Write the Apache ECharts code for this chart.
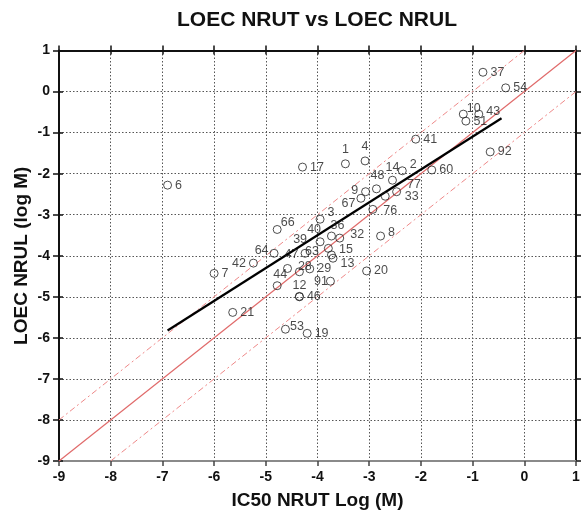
<!DOCTYPE html>
<html>
<head>
<meta charset="utf-8">
<script src="https://cdn.jsdelivr.net/npm/echarts@6/dist/echarts.min.js"></script>
<style>
html,body{margin:0;padding:0;background:#fff;}
#chart{width:581px;height:519px;}
</style>
</head>
<body>
<div id="chart"></div>
<script>
// Compound identifiers and their log(M) values
const pointIds = ['1','4','17','6','37','54','10','43','51','41','92','2','60','14','48','9','67','77','33','76',
  '3','66','40','36','32','8','39','64','63','15','13','47','28','29','20','44','91','12','46','53','19','42','7','21'];
const pointX = [-3.46,-3.08,-4.29,-6.90,-0.80,-0.36,-1.18,-0.88,-1.13,-2.10,-0.66,-2.36,-1.79,-2.55,-2.86,-3.07,-3.16,-2.47,-2.69,-2.93,
  -3.95,-4.78,-3.95,-3.73,-3.57,-2.78,-4.24,-4.84,-3.79,-3.73,-3.70,-4.58,-4.35,-4.15,-3.05,-4.78,-3.75,-4.35,-4.35,-4.62,-4.20,-5.24,-6.00,-5.64];
const pointY = [-1.76,-1.69,-1.84,-2.28,0.47,0.09,-0.55,-0.55,-0.72,-1.16,-1.47,-1.93,-1.91,-2.16,-2.37,-2.44,-2.60,-2.44,-2.55,-2.87,
  -3.11,-3.36,-3.66,-3.52,-3.57,-3.52,-3.94,-3.94,-3.82,-3.98,-4.06,-4.31,-4.39,-4.32,-4.37,-4.73,-4.62,-4.99,-5.00,-5.79,-5.89,-4.18,-4.43,-5.38];

// Linear fit end points
const fitX = [-6.90, -0.44];
const fitY = [-5.82, -0.65];

// Reference lines: identity and +/- one log unit
const identityX = [-9, 1];
const identityY = [-9, 1];
const upperX = [-9, 0];
const upperY = [-8, 1];
const lowerX = [-8, 1];
const lowerY = [-9, 0];

// Label placement for each id: [side, dx, dy]; ids not listed sit to the right
const labelPlace = {
  '1': ['top', 0, 0], '4': ['top', 0, 0],
  '10': ['right', -4, -6], '43': ['right', 0, -3],
  '2': ['right', 0, -6], '14': ['top', 0, 1], '48': ['top', 1, 1],
  '9': ['left', 0, -1], '67': ['left', 2, 5], '77': ['right', 3, -7], '33': ['right', 12, 0], '76': ['right', 3, 1],
  '3': ['right', 0, -7], '66': ['right', -4, -7], '40': ['top', -6, 2], '36': ['top', 6, 4], '32': ['right', 3, -4], '8': ['right', 0, -3],
  '39': ['top', -5, 0], '64': ['left', 2, -3], '63': ['left', -2, 3], '15': ['right', 0, -5], '13': ['right', 0, 5],
  '47': ['top', 4, 0], '28': ['right', -9, -5], '44': ['top', 3, 3], '91': ['left', 5, 0], '12': ['top', 0, 3],
  '53': ['right', -3, -3], '42': ['left', 0, 0]
};

const pts = pointIds.map((id, i) => {
  const p = labelPlace[id] || ['right', 0, 0];
  return { value: [pointX[i], pointY[i]], name: id, label: { position: p[0], offset: [p[1], p[2]] } };
});

const zip = (a, b) => a.map((v, i) => [v, b[i]]);

const chart = echarts.init(document.getElementById('chart'), null, { renderer: 'canvas' });

const FONT = 'Liberation Sans, Arial, sans-serif';
const axisFont = { fontFamily: FONT, fontWeight: 'bold', fontSize: 14, color: '#111' };

chart.setOption({
  animation: false,
  backgroundColor: '#fff',
  title: {
    text: 'LOEC NRUT vs LOEC NRUL',
    left: 312, top: 5, textAlign: 'center',
    textStyle: { fontFamily: FONT, fontWeight: 'bold', fontSize: 21, color: '#111' }
  },
  grid: { left: 59, right: 5, top: 50.5, bottom: 58, outerBoundsMode: 'none', containLabel: false },
  xAxis: [
    {
      type: 'value', min: -9, max: 1, interval: 1, position: 'bottom',
      name: 'IC50 NRUT Log (M)', nameLocation: 'middle', nameGap: 30,
      nameTextStyle: { fontFamily: FONT, fontWeight: 'bold', fontSize: 19, color: '#111' },
      axisLine: { show: true, onZero: false, lineStyle: { color: '#8a8a8a', width: 2 } },
      axisTick: { show: true, length: 5, lineStyle: { color: '#444', width: 1.5 } },
      axisLabel: Object.assign({ margin: 9 }, axisFont),
      splitLine: { show: true, lineStyle: { color: '#555', type: [1.5, 2], width: 1 } }
    },
    {
      type: 'value', min: -9, max: 1, interval: 1, position: 'top',
      axisLine: { show: true, onZero: false, lineStyle: { color: '#111', width: 2 } },
      axisTick: { show: true, inside: false, length: 5, lineStyle: { color: '#111', width: 1.5 } },
      axisLabel: { show: false }, splitLine: { show: false }
    },
    {
      type: 'value', min: -9, max: 1, interval: 1, position: 'top',
      axisLine: { show: false, onZero: false },
      axisTick: { show: true, inside: true, length: 4, lineStyle: { color: '#111', width: 1.5 } },
      axisLabel: { show: false }, splitLine: { show: false }
    }
  ],
  yAxis: [
    {
      type: 'value', min: -9, max: 1, interval: 1, position: 'left',
      name: 'LOEC NRUL (log M)', nameLocation: 'middle', nameGap: 28, nameRotate: 90, nameMoveOverlap: false,
      nameTextStyle: { fontFamily: FONT, fontWeight: 'bold', fontSize: 19, color: '#111' },
      axisLine: { show: true, onZero: false, lineStyle: { color: '#111', width: 2 } },
      axisTick: { show: true, length: 6, lineStyle: { color: '#111', width: 1.5 } },
      axisLabel: Object.assign({ margin: 9 }, axisFont),
      splitLine: { show: true, lineStyle: { color: '#555', type: [1.5, 2], width: 1 } }
    },
    {
      type: 'value', min: -9, max: 1, interval: 1, position: 'left',
      axisLine: { show: false, onZero: false },
      axisTick: { show: true, inside: true, length: 4, lineStyle: { color: '#111', width: 1.5 } },
      axisLabel: { show: false }, splitLine: { show: false }
    },
    {
      type: 'value', min: -9, max: 1, interval: 1, position: 'right',
      axisLine: { show: true, onZero: false, lineStyle: { color: '#111', width: 2 } },
      axisTick: { show: true, length: 5, lineStyle: { color: '#111', width: 1.5 } },
      axisLabel: { show: false }, splitLine: { show: false }
    }
  ],
  series: [
    {
      type: 'line', data: zip(identityX, identityY), symbol: 'none', silent: true,
      lineStyle: { color: '#e06a6a', width: 1.2 }, z: 2
    },
    {
      type: 'line', data: zip(upperX, upperY), symbol: 'none', silent: true,
      lineStyle: { color: '#e88', width: 1, type: [6, 3, 2, 3] }, z: 2
    },
    {
      type: 'line', data: zip(lowerX, lowerY), symbol: 'none', silent: true,
      lineStyle: { color: '#e88', width: 1, type: [6, 3, 2, 3] }, z: 2
    },
    {
      type: 'line', data: zip(fitX, fitY), symbol: 'none', silent: true,
      lineStyle: { color: '#000', width: 2.2 }, z: 4
    },
    {
      type: 'scatter', data: pts, symbol: 'circle', symbolSize: 8,
      itemStyle: { color: 'rgba(255,255,255,0)', borderColor: '#222', borderWidth: 1 },
      label: {
        show: true, formatter: p => p.name, distance: 3,
        fontFamily: FONT, fontSize: 12.5, color: '#1a1a1a'
      },
      z: 5
    }
  ]
});
</script>
</body>
</html>
